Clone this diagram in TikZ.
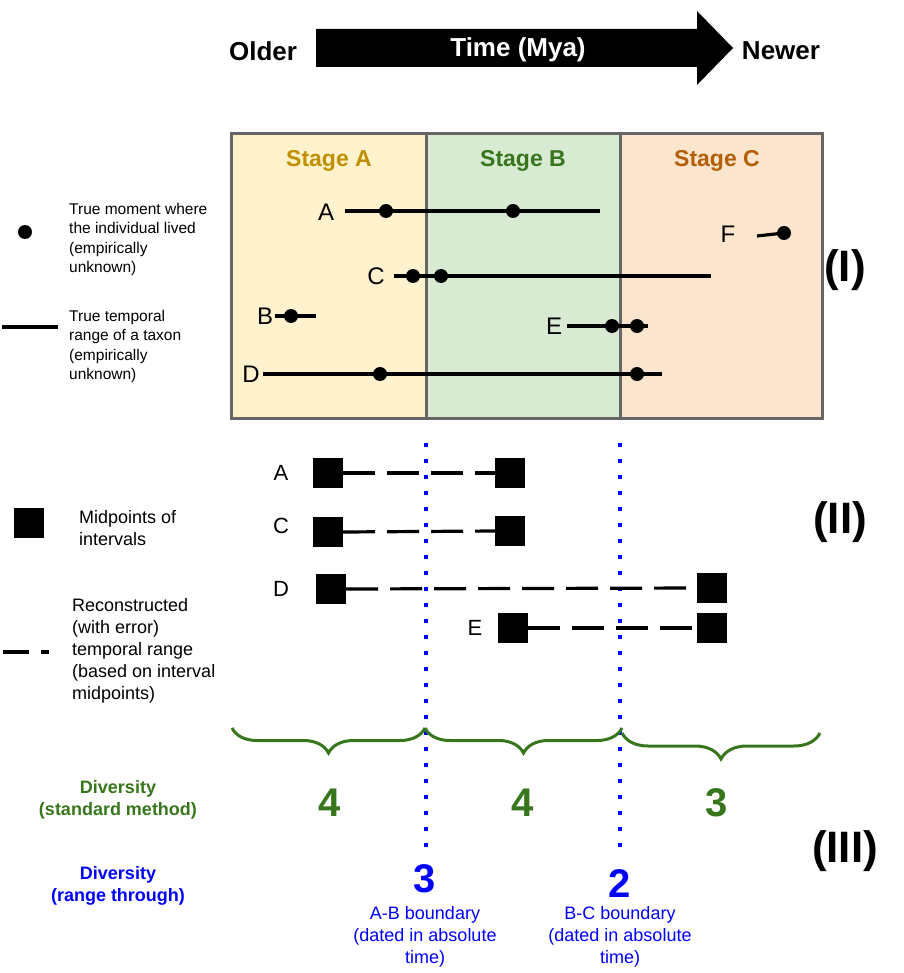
\documentclass[tikz,border=0pt]{standalone}
\usepackage{fontspec}
\setmainfont{Liberation Sans}
\usetikzlibrary{decorations.pathreplacing}
\definecolor{fillA}{HTML}{FFF2CC}
\definecolor{fillB}{HTML}{D9EAD3}
\definecolor{fillC}{HTML}{FCE5CD}
\definecolor{txtA}{HTML}{BF9000}
\definecolor{txtB}{HTML}{38761D}
\definecolor{txtC}{HTML}{B45F06}
\definecolor{framegray}{HTML}{666666}
\definecolor{dgreen}{HTML}{38761D}
\newcommand\myfs[2]{\fontsize{#1}{#2}\selectfont}
\begin{document}
\begin{tikzpicture}[x=1pt,y=-1pt,
  dot/.style={circle,fill=black,inner sep=0pt,minimum size=14pt},
  sq/.style={rectangle,fill=black,inner sep=0pt,minimum size=30pt},
  rangeline/.style={line width=3.2pt},
  recline/.style={line width=3.2pt,dash pattern=on 32pt off 12pt},
  bnd/.style={blue,line width=3.6pt,dash pattern=on 3.6pt off 12.4pt},
  brc/.style={dgreen,line width=3pt,decorate,decoration={brace,mirror,amplitude=25pt}},
  lbl/.style={inner sep=0pt,font={\myfs{24}{28}}},
  hdr/.style={inner sep=0pt,font={\myfs{26}{30}\bfseries}},
  stagelbl/.style={inner sep=0pt,font={\myfs{23}{27}\bfseries}},
  stagebox/.style={draw=framegray,line width=3pt,inner sep=0pt,minimum height=284pt},
  roman/.style={inner sep=0pt,font={\myfs{44}{48}\bfseries}},
  legtxt/.style={inner sep=0pt,anchor=north west,align=left,font={\myfs{15.5}{19.5}}},
  legtxtb/.style={inner sep=0pt,anchor=north west,align=left,font={\myfs{18}{22}}},
  divtxt/.style={inner sep=0pt,align=center,font={\myfs{18}{22}\bfseries}},
  num/.style={inner sep=0pt,font={\myfs{40}{44}\bfseries}},
  bndtxt/.style={inner sep=0pt,align=center,blue,font={\myfs{18}{22}}}]
\useasboundingbox (0,0) rectangle (903,973);

% time arrow
\fill (316,29) -- (697,29) -- (697,11) -- (733,48) -- (697,85) -- (697,67) -- (316,67) -- cycle;
\node[hdr,white] (time) at (518,50) {Time (Mya)};
\node[hdr] (older) at (263,51) {Older};
\node[hdr] (newer) at (781,51) {Newer};

% stage boxes
\node[stagebox,fill=fillA,minimum width=195pt] (sA) at (328.5,276) {};
\node[stagebox,fill=fillB,minimum width=194pt] (sB) at (523,276) {};
\node[stagebox,fill=fillC,minimum width=202pt] (sC) at (721,276) {};
\node[stagelbl,txtA] (tA) at (329,161) {Stage A};
\node[stagelbl,txtB] (tB) at (523,161) {Stage B};
\node[stagelbl,txtC] (tC) at (717,161) {Stage C};

% section I ranges
\node[lbl] (lA) at (326,212) {A};
\coordinate (Aa) at (345,211); \coordinate (Ab) at (600,211);
\draw[rangeline] (Aa) -- (Ab);
\node[dot] (A1) at (386,211) {}; \node[dot] (A2) at (513,211) {};

\node[lbl] (lF) at (728,234) {F};
\coordinate (Fa) at (757,236);
\node[dot] (F1) at (784,233) {};
\draw[rangeline] (Fa) -- (F1.center);

\node[lbl] (lC) at (376,276) {C};
\coordinate (Ca) at (394,276); \coordinate (Cb) at (711,276);
\draw[rangeline] (Ca) -- (Cb);
\node[dot] (C1) at (413,276) {}; \node[dot] (C2) at (441,276) {};

\node[lbl] (lB) at (265,316) {B};
\coordinate (Ba) at (275,316); \coordinate (Bb) at (316,316);
\draw[rangeline] (Ba) -- (Bb);
\node[dot] (B1) at (291,316) {};

\node[lbl] (lE) at (554,326) {E};
\coordinate (Ea) at (567,326); \coordinate (Eb) at (648,326);
\draw[rangeline] (Ea) -- (Eb);
\node[dot] (E1) at (612,326) {}; \node[dot] (E2) at (637,326) {};

\node[lbl] (lD) at (251,374) {D};
\coordinate (Da) at (263,374); \coordinate (Db) at (662,374);
\draw[rangeline] (Da) -- (Db);
\node[dot] (D1) at (380,374) {}; \node[dot] (D2) at (637,374) {};

\node[roman] (rI) at (845,270) {(I)};

% legend I
\node[dot] (legdot) at (25,232) {};
\node[legtxt] (legdott) at (69,203) {True moment where\\the individual lived\\(empirically\\unknown)};
\coordinate (legl1) at (2,327); \coordinate (legl2) at (58,327);
\draw[rangeline] (legl1) -- (legl2);
\node[legtxt] (leglt) at (69,310) {True temporal\\range of a taxon\\(empirically\\unknown)};

% boundaries
\coordinate (ab1) at (426,443); \coordinate (ab2) at (426,858);
\coordinate (bc1) at (620,443); \coordinate (bc2) at (620,848);
\draw[bnd] (ab1) -- (ab2);
\draw[bnd] (bc1) -- (bc2);

% section II
\node[lbl,font={\myfs{22}{26}}] (mA) at (281,473) {A};
\node[sq] (qA1) at (328,473) {}; \node[sq] (qA2) at (510,473) {};
\draw[recline] (qA1.east) -- (qA2.west);

\node[lbl,font={\myfs{22}{26}}] (mC) at (281,526) {C};
\node[sq] (qC1) at (328,532) {}; \node[sq] (qC2) at (510,531) {};
\draw[recline] (qC1.east) -- (qC2.west);

\node[lbl,font={\myfs{22}{26}}] (mD) at (281,589) {D};
\node[sq] (qD1) at (331,589) {}; \node[sq] (qD2) at (712,588) {};
\draw[recline] (qD1.east) -- (qD2.west);

\node[lbl,font={\myfs{22}{26}}] (mE) at (475,628) {E};
\node[sq] (qE1) at (513,628) {}; \node[sq] (qE2) at (712,628) {};
\draw[recline] (qE1.east) -- (qE2.west);

\node[roman] (rII) at (840,522) {(II)};

% legend II
\node[sq] (legsq) at (29,523) {};
\node[legtxtb] (legsqt) at (79,510) {Midpoints of\\intervals};
\coordinate (legd1) at (3,652); \coordinate (legd2) at (49,652);
\draw[line width=3.2pt,dash pattern=on 26pt off 12pt] (legd1) -- (legd2);
\node[legtxtb] (legdt) at (72,598) {Reconstructed\\(with error)\\temporal range\\(based on interval\\midpoints)};

% section III
\draw[brc] (232,728) -- (425,728);
\draw[brc] (425,728) -- (622,728);
\draw[brc,decoration={brace,mirror,amplitude=26pt}] (622,733) -- (820,733);

\node[divtxt,dgreen] (divs) at (118,800) {Diversity\\(standard method)};
\node[num,dgreen] (n1) at (330,803) {4};
\node[num,dgreen] (n2) at (523,803) {4};
\node[num,dgreen] (n3) at (717,803) {3};

\node[divtxt,blue] (divr) at (118,886) {Diversity\\(range through)};
\node[num,blue] (nb1) at (425,879) {3};
\node[num,blue] (nb2) at (620,884) {2};
\node[bndtxt] (bt1) at (425,937) {A-B boundary\\(dated in absolute\\time)};
\node[bndtxt] (bt2) at (620,937) {B-C boundary\\(dated in absolute\\time)};

\node[roman] (rIII) at (845,851) {(III)};
\end{tikzpicture}
\end{document}
